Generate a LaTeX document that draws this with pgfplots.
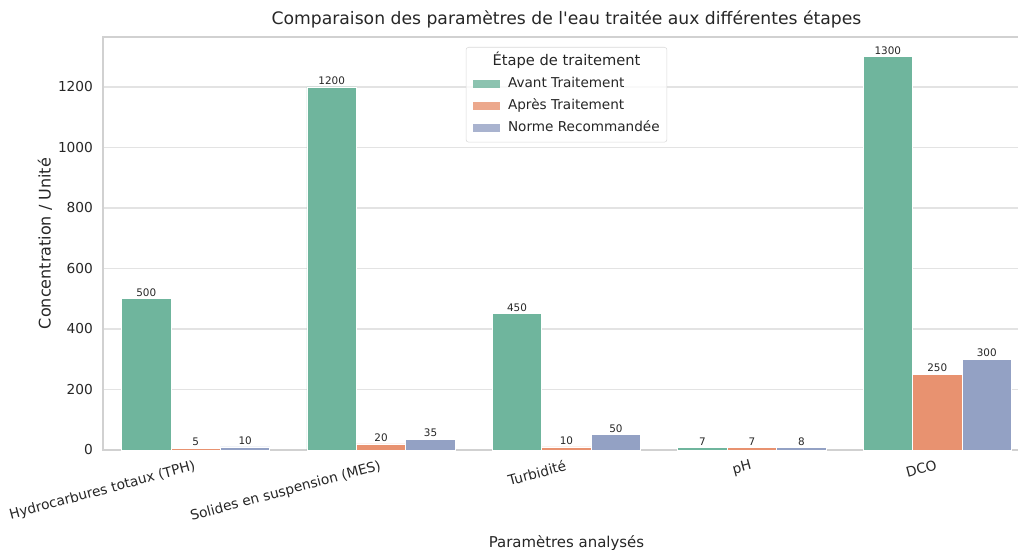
\documentclass[border=0pt]{standalone}
\usepackage{pgfplots}
\pgfplotsset{compat=1.18}
\usepackage{fontspec}
\setmainfont{DejaVu Sans}[Ligatures=TeXOff]
\definecolor{cA}{RGB}{111,181,157}
\definecolor{cB}{RGB}{232,146,112}
\definecolor{cC}{RGB}{147,161,196}
\definecolor{txt}{RGB}{38,38,38}
\begin{document}
\begin{tikzpicture}
\begin{axis}[
  name=ax,
  scale only axis,
  width=695.25pt, height=309.75pt,
  xmin=-0.5, xmax=4.5, ymin=0, ymax=1365,
  clip=false,
  xtick={0,1,2,3,4},
  xticklabels={Hydrocarbures totaux (TPH),Solides en suspension (MES),Turbidité,pH,DCO},
  ytick={0,200,400,600,800,1000,1200},
  ymajorgrids,
  grid style={color=black!11, line width=0.9pt},
  axis line style={color=black!18, line width=0.9pt},
  major tick length=0pt,
  /pgf/number format/assume math mode=true,
  /pgf/number format/1000 sep={},
  tick label style={font=\fontsize{10.3}{12}\selectfont, text=txt},
  yticklabel style={xshift=-4pt},
  xticklabel style={rotate=15, anchor=north east, yshift=-3pt},
  legend style={at={(0.5,0.9758)}, anchor=north, draw=black!15, rounded corners=2pt,
    fill=white, fill opacity=0.8, text opacity=1, font=\fontsize{10.2}{12}\selectfont,
    text=txt, inner xsep=5.5pt, inner ysep=5.6pt, row sep=6pt,
    nodes={inner sep=0pt, text height=8pt, text depth=2.5pt},
    /tikz/every odd column/.append style={column sep=6pt},
    cells={anchor=west}, name=leg},
  legend image code/.code={\fill[#1,draw=none,sharp corners] (0pt,-3pt) rectangle (20pt,3pt);},
  every node near coord/.append style={font=\fontsize{7.8}{9}\selectfont, text=txt, anchor=south, inner sep=1.5pt},
]
\addlegendimage{empty legend}
\addlegendentry{}
\addplot[ybar, fill=cA, draw=white, line width=0.6pt, bar width=0.2667, bar shift=-0.2667, nodes near coords,
  every node near coord/.append style={xshift=-37.08pt}]
  coordinates {(0,500) (1,1200) (2,450) (3,7) (4,1300)};
\addlegendentry{Avant Traitement}
\addplot[ybar, fill=cB, draw=white, line width=0.6pt, bar width=0.2667, bar shift=0, nodes near coords]
  coordinates {(0,5) (1,20) (2,10) (3,7) (4,250)};
\addlegendentry{Après Traitement}
\addplot[ybar, fill=cC, draw=white, line width=0.6pt, bar width=0.2667, bar shift=0.2667, nodes near coords,
  every node near coord/.append style={xshift=37.08pt}]
  coordinates {(0,10) (1,35) (2,50) (3,8) (4,300)};
\addlegendentry{Norme Recommandée}
\end{axis}
\node[anchor=center, font=\fontsize{11}{13}\selectfont, text=txt] at ([yshift=-9.75pt]leg.north) {Étape de traitement};
\node[anchor=base, font=\fontsize{12.9}{15}\selectfont, text=txt] at ([yshift=9pt]ax.north) {Comparaison des paramètres de l'eau traitée aux différentes étapes};
\node[anchor=base, font=\fontsize{11.2}{13}\selectfont, text=txt] at ([yshift=-72.75pt]ax.south) {Paramètres analysés};
\node[anchor=center, rotate=90, font=\fontsize{12}{14}\selectfont, text=txt] at ([xshift=-43.5pt]ax.west) {Concentration / Unité};
\pgfresetboundingbox
\useasboundingbox ([xshift=-77.25pt, yshift=-75pt]ax.south west) rectangle ([xshift=686.25pt, yshift=27.75pt]ax.north west);
\end{tikzpicture}
\end{document}
